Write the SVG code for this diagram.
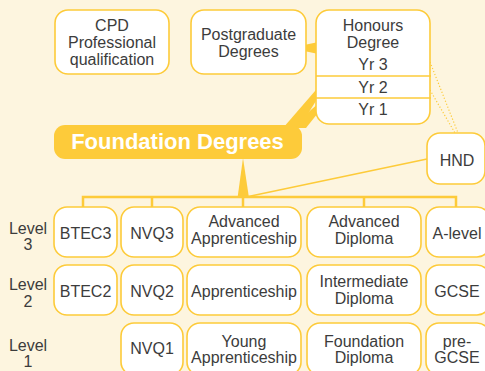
<svg xmlns="http://www.w3.org/2000/svg" width="485" height="371" viewBox="0 0 485 371">
<style>
.bx{fill:#fff;stroke:#FDCB3A;stroke-width:1.6}
.t{font-family:"Liberation Sans",Arial,sans-serif;font-size:16px;fill:#3c3c3c;text-anchor:middle}
.ln{stroke:#FDCB3A;stroke-width:2.5;fill:none}
.th{stroke:#FDCB3A;stroke-width:1.6;fill:none}
.dot{stroke:#FDCB3A;stroke-width:1.2;stroke-dasharray:1.2 2;fill:none}
.fill{fill:#FDCB3A}
</style>
<rect width="485" height="371" fill="#FDF5DF"/>
<g id="connectors">
  <polygon class="fill" points="290,48 316,42.5 316,53.5"/>
  <polygon class="fill" points="341,61 283,128 299,128"/>
  <polygon class="fill" points="341,84 290,128 306,128"/>
  <line class="dot" x1="430" y1="62" x2="458" y2="133"/>
  <line class="dot" x1="430" y1="90" x2="455" y2="133"/>
  <line class="th" x1="427" y1="159" x2="246" y2="197"/>
  <polygon class="fill" points="243,158 237.5,198 249,198"/>
  <polyline class="ln" points="83,208 83,197 456,197 456,208"/>
  <line class="ln" x1="152" y1="197" x2="152" y2="208"/>
  <line class="ln" x1="243" y1="197" x2="243" y2="208"/>
  <line class="ln" x1="364" y1="197" x2="364" y2="208"/>
</g>
<g id="cpd">
  <rect class="bx" x="55" y="10" width="114" height="64" rx="13"/>
  <text class="t" x="112" y="31">CPD</text>
  <text class="t" x="112" y="48">Professional</text>
  <text class="t" x="112" y="65">qualification</text>
</g>
<g id="postgraduate">
  <rect class="bx" x="191" y="10" width="115" height="64" rx="13"/>
  <text class="t" x="248.5" y="40">Postgraduate</text>
  <text class="t" x="248.5" y="57">Degrees</text>
</g>
<g id="honours">
  <rect class="bx" x="316" y="10" width="114" height="114" rx="13"/>
  <line class="th" x1="316" y1="76" x2="431" y2="76" stroke-width="2"/>
  <line class="th" x1="316" y1="98" x2="431" y2="98" stroke-width="2"/>
  <text class="t" x="373" y="31">Honours</text>
  <text class="t" x="373" y="48">Degree</text>
  <text class="t" x="373" y="70">Yr 3</text>
  <text class="t" x="373" y="92.5">Yr 2</text>
  <text class="t" x="373" y="115">Yr 1</text>
</g>
<g id="foundation">
  <rect class="fill" x="54" y="125" width="248" height="34" rx="11"/>
  <text x="177.5" y="148.5" font-family="'Liberation Sans',Arial,sans-serif" font-size="22" font-weight="bold" fill="#fff" text-anchor="middle">Foundation Degrees</text>
</g>
<g id="hnd">
  <rect class="bx" x="427" y="133" width="58" height="51" rx="13"/>
  <text class="t" x="457" y="166">HND</text>
</g>
<g id="levels">
  <text class="t" x="28" y="234">Level</text>
  <text class="t" x="28" y="250">3</text>
  <text class="t" x="28" y="290">Level</text>
  <text class="t" x="28" y="306.5">2</text>
  <text class="t" x="28" y="351">Level</text>
  <text class="t" x="28" y="367">1</text>
</g>
<g id="btec3">
  <rect class="bx" x="54" y="207" width="63" height="50" rx="13"/>
  <text class="t" x="85.5" y="239">BTEC3</text>
</g>
<g id="nvq3">
  <rect class="bx" x="121" y="207" width="62" height="50" rx="13"/>
  <text class="t" x="152" y="239">NVQ3</text>
</g>
<g id="adv-app">
  <rect class="bx" x="187" y="207" width="114" height="50" rx="13"/>
  <text class="t" x="244" y="227">Advanced</text>
  <text class="t" x="244" y="244">Apprenticeship</text>
</g>
<g id="adv-dip">
  <rect class="bx" x="307" y="207" width="114" height="50" rx="13"/>
  <text class="t" x="364" y="227">Advanced</text>
  <text class="t" x="364" y="244">Diploma</text>
</g>
<g id="alevel">
  <rect class="bx" x="426" y="207" width="64" height="50" rx="13"/>
  <text class="t" x="457" y="239">A-level</text>
</g>
<g id="btec2">
  <rect class="bx" x="54" y="265" width="63" height="50" rx="13"/>
  <text class="t" x="85.5" y="297">BTEC2</text>
</g>
<g id="nvq2">
  <rect class="bx" x="121" y="265" width="62" height="50" rx="13"/>
  <text class="t" x="152" y="297">NVQ2</text>
</g>
<g id="app">
  <rect class="bx" x="187" y="265" width="114" height="50" rx="13"/>
  <text class="t" x="244" y="297">Apprenticeship</text>
</g>
<g id="int-dip">
  <rect class="bx" x="307" y="265" width="114" height="50" rx="13"/>
  <text class="t" x="364" y="287">Intermediate</text>
  <text class="t" x="364" y="303.5">Diploma</text>
</g>
<g id="gcse">
  <rect class="bx" x="426" y="265" width="64" height="50" rx="13"/>
  <text class="t" x="457" y="297">GCSE</text>
</g>
<g id="nvq1">
  <rect class="bx" x="121" y="323" width="62" height="52" rx="13"/>
  <text class="t" x="152" y="353.5">NVQ1</text>
</g>
<g id="young-app">
  <rect class="bx" x="187" y="323" width="114" height="52" rx="13"/>
  <text class="t" x="244" y="346.5">Young</text>
  <text class="t" x="244" y="363">Apprenticeship</text>
</g>
<g id="found-dip">
  <rect class="bx" x="307" y="323" width="114" height="52" rx="13"/>
  <text class="t" x="364" y="346.5">Foundation</text>
  <text class="t" x="364" y="363">Diploma</text>
</g>
<g id="pre-gcse">
  <rect class="bx" x="426" y="323" width="64" height="52" rx="13"/>
  <text class="t" x="457" y="346.5">pre-</text>
  <text class="t" x="457" y="363">GCSE</text>
</g>
</svg>
